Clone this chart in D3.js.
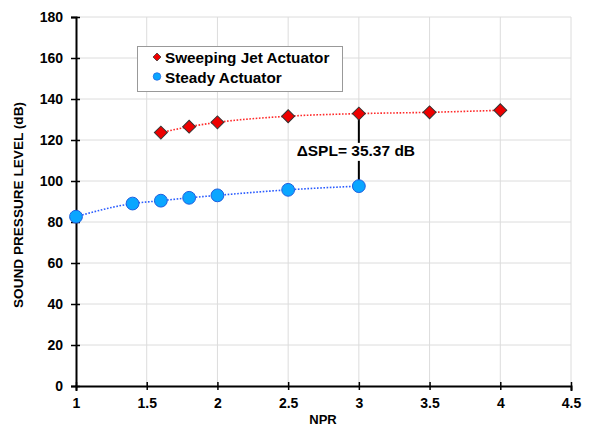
<!DOCTYPE html>
<html>
<head>
<meta charset="utf-8">
<script src="https://cdn.jsdelivr.net/npm/d3@7"></script>
<style>
  html, body { margin: 0; padding: 0; background: #fff; }
  svg { display: block; font-family: Arial, "Liberation Sans", sans-serif; }
</style>
</head>
<body>
<svg id="chart" width="596" height="428"></svg>
<script>
// NPR values and measured sound pressure levels (dB)
const jetNPR = [1.6, 1.8, 2.0, 2.5, 3.0, 3.5, 4.0];
const jetSPL = [123.6, 126.5, 128.6, 131.6, 132.87, 133.5, 134.5];
const steadyNPR = [1.0, 1.4, 1.6, 1.8, 2.0, 2.5, 3.0];
const steadySPL = [82.6, 89.0, 90.4, 91.8, 93.0, 95.7, 97.5];
const xTicks = [1, 1.5, 2, 2.5, 3, 3.5, 4, 4.5];
const yTicks = [0, 20, 40, 60, 80, 100, 120, 140, 160, 180];
const seriesNames = ["Sweeping Jet Actuator", "Steady Actuator"];
const deltaNPR = 3.0;

const svg = d3.select("#chart");
const x = d3.scaleLinear().domain([1, 4.5]).range([76, 571]);
const y = d3.scaleLinear().domain([0, 180]).range([386, 17]);

// grid
svg.append("g").selectAll("line").data(yTicks.slice(1)).join("line")
  .attr("x1", x(1)).attr("x2", x(4.5))
  .attr("y1", d => y(d)).attr("y2", d => y(d))
  .attr("stroke", "#dcdcdc").attr("stroke-width", 1);
svg.append("g").selectAll("line").data(xTicks.slice(1)).join("line")
  .attr("x1", d => x(d)).attr("x2", d => x(d))
  .attr("y1", y(0)).attr("y2", y(180))
  .attr("stroke", "#dcdcdc").attr("stroke-width", 1);

// axes
const xAxis = svg.append("g").attr("transform", `translate(0,${y(0)})`)
  .call(d3.axisBottom(x).tickValues(xTicks).tickSize(5).tickFormat(d3.format("")));
xAxis.select(".domain").attr("stroke", "#000").attr("stroke-width", 2);
xAxis.selectAll(".tick line").attr("stroke", "#000").attr("stroke-width", 1.5).attr("y1", -4).attr("y2", 4);
xAxis.selectAll(".tick text").attr("y", 12).attr("font-size", 14).attr("font-weight", "bold")
  .attr("font-family", "Arial, 'Liberation Sans', sans-serif").attr("fill", "#000");

const yAxis = svg.append("g").attr("transform", `translate(${x(1)},0)`)
  .call(d3.axisLeft(y).tickValues(yTicks).tickSize(5));
yAxis.select(".domain").attr("stroke", "#000").attr("stroke-width", 2);
yAxis.selectAll(".tick line").attr("stroke", "#000").attr("stroke-width", 1.5).attr("x1", -5).attr("x2", 4);
yAxis.selectAll(".tick text").attr("x", -13).attr("font-size", 14).attr("font-weight", "bold")
  .attr("font-family", "Arial, 'Liberation Sans', sans-serif").attr("fill", "#000");

// axis titles
svg.append("text").attr("x", 323).attr("y", 424).attr("text-anchor", "middle")
  .attr("font-size", 13).attr("font-weight", "bold").text("NPR");
svg.append("text").attr("transform", "translate(23,205) rotate(-90)")
  .attr("text-anchor", "middle").attr("font-size", 13.6).attr("font-weight", "bold")
  .text("SOUND PRESSURE LEVEL (dB)");

// trend lines
const jet = jetNPR.map((n, i) => [n, jetSPL[i]]);
const steady = steadyNPR.map((n, i) => [n, steadySPL[i]]);
const line = d3.line().x(d => x(d[0])).y(d => y(d[1])).curve(d3.curveMonotoneX);
svg.append("path").attr("d", line(jet)).attr("fill", "none")
  .attr("stroke", "#ff2a2a").attr("stroke-width", 1.6).attr("stroke-dasharray", "1.6,1.6");
svg.append("path").attr("d", line(steady)).attr("fill", "none")
  .attr("stroke", "#2a5cff").attr("stroke-width", 1.6).attr("stroke-dasharray", "1.6,1.6");

// ΔSPL marker with its label on a white patch
const jetAt = jetSPL[jetNPR.indexOf(deltaNPR)];
const steadyAt = steadySPL[steadyNPR.indexOf(deltaNPR)];
const delta = jetAt - steadyAt;
svg.append("line").attr("x1", x(deltaNPR)).attr("x2", x(deltaNPR))
  .attr("y1", y(jetAt)).attr("y2", y(steadyAt)).attr("stroke", "#000").attr("stroke-width", 2);
const patch = svg.append("rect").attr("fill", "#fff");
const lbl = svg.append("text").attr("x", x(deltaNPR) - 3).attr("y", y((jetAt + steadyAt) / 2) + 6)
  .attr("text-anchor", "middle").attr("font-size", 15.5).attr("font-weight", "bold")
  .text(`\u0394SPL= ${delta.toFixed(2)} dB`);
const bb = lbl.node().getBBox();
patch.attr("x", bb.x - 2).attr("y", bb.y + 1).attr("width", bb.width + 4).attr("height", bb.height + 1);

// markers
svg.append("g").selectAll("path").data(jet).join("path")
  .attr("d", d3.symbol().type(d3.symbolSquare).size(84))
  .attr("transform", d => `translate(${x(d[0])},${y(d[1])}) rotate(45)`)
  .attr("fill", "#ee0000").attr("stroke", "#333").attr("stroke-width", 1);
svg.append("g").selectAll("circle").data(steady).join("circle")
  .attr("cx", d => x(d[0])).attr("cy", d => y(d[1])).attr("r", 6.4)
  .attr("fill", "#0aa6ff").attr("stroke", "#1f5fe0").attr("stroke-width", 1);

// legend
const lg = svg.append("g");
lg.append("rect").attr("x", 137.5).attr("y", 46.5).attr("width", 205).attr("height", 45)
  .attr("fill", "#fff").attr("stroke", "#999").attr("stroke-width", 1);
lg.append("path").attr("d", d3.symbol().type(d3.symbolSquare).size(32))
  .attr("transform", "translate(157,57) rotate(45)")
  .attr("fill", "#ee0000").attr("stroke", "#333").attr("stroke-width", 0.7);
lg.append("circle").attr("cx", 157).attr("cy", 76.5).attr("r", 3.8)
  .attr("fill", "#0aa6ff").attr("stroke", "#1f5fe0").attr("stroke-width", 0.7);
lg.selectAll("text").data(seriesNames).join("text")
  .attr("x", 165).attr("y", (d, i) => 62.5 + i * 20)
  .attr("font-size", 15.3).attr("font-weight", "bold").text(d => d);
</script>
</body>
</html>
